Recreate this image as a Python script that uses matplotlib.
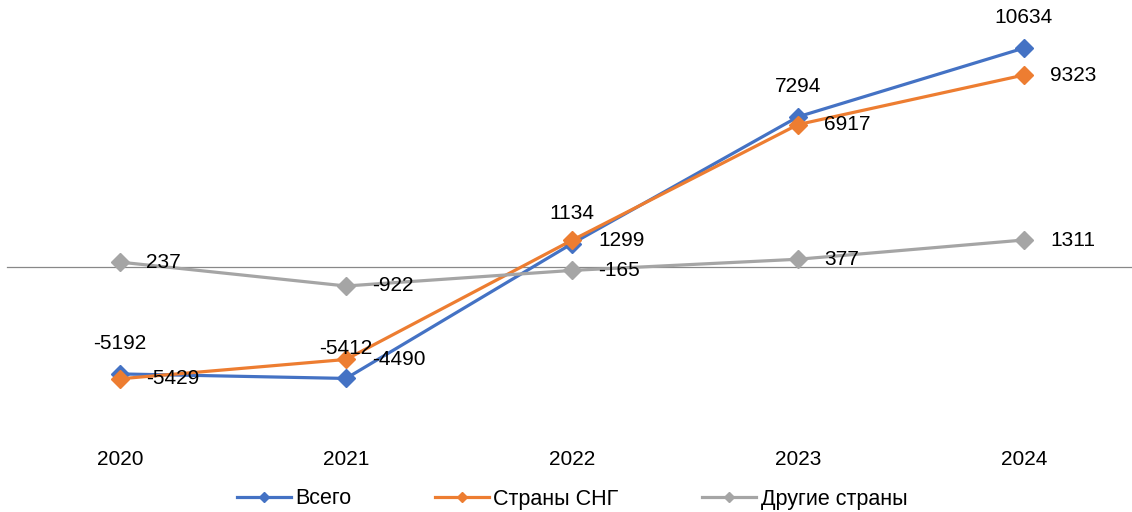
import matplotlib.pyplot as plt

years = ["2020", "2021", "2022", "2023", "2024"]
total = [-5192, -5412, 1134, 7294, 10634]
cis = [-5429, -4490, 1299, 6917, 9323]
other = [237, -922, -165, 377, 1311]

names = ["Всего", "Страны СНГ", "Другие страны"]
colors = ["#4472C4", "#ED7D31", "#A5A5A5"]

plt.rcParams["font.family"] = ["Liberation Sans", "DejaVu Sans"]

fig = plt.figure(figsize=(11.32, 5.12), dpi=100)
ax = fig.add_axes([0, 0.15625, 1, 0.84375])

x = list(range(len(years)))
series = [total, cis, other]
for vals, name, c in zip(series, names, colors):
    ax.plot(x, vals, color=c, lw=2.3, marker="D", markersize=9, label=name)

# data labels: first series above, others right
for i, v in enumerate(total):
    ax.annotate(str(v), (i, v), xytext=(0, 15), textcoords="offset points",
                ha="center", va="bottom", fontsize=15)
for vals in (cis, other):
    for i, v in enumerate(vals):
        ax.annotate(str(v), (i, v), xytext=(19, 0), textcoords="offset points",
                    ha="left", va="center", fontsize=15)

ax.axhline(0, xmin=7 / 1132, xmax=1, color="#888888", lw=0.9, zorder=0)

ax.set_xlim(-0.531, 4.478)
ax.set_ylim(-8013, 12967)
ax.set_xticks(x)
ax.set_xticklabels(years, fontsize=15)
ax.tick_params(axis="x", length=0, pad=13)
ax.set_yticks([])
for s in ax.spines.values():
    s.set_visible(False)

fig.legend(loc="center", bbox_to_anchor=(0.5 + 6 / 1132, 1 - 499 / 512), ncol=3,
           frameon=False, fontsize=15.5, handlelength=2.5, handletextpad=0.2,
           columnspacing=3.9, markerscale=0.6)

fig.savefig("out.png", dpi=100)
